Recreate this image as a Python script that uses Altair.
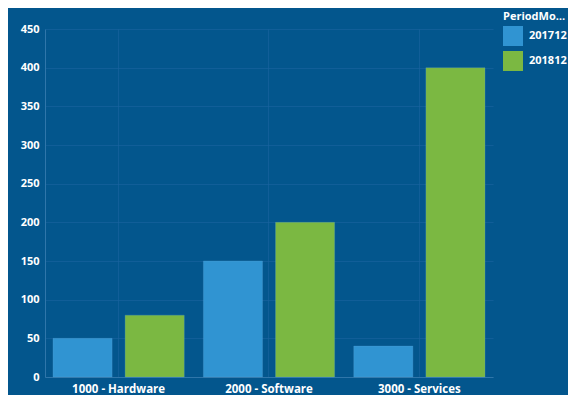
import altair as alt
import pandas as pd

categories = ["1000 - Hardware", "2000 - Software", "3000 - Services"]
periods = ["201712", "201812"]
values_201712 = [50, 150, 40]
values_201812 = [80, 200, 400]

rows = []
for c, v1, v2 in zip(categories, values_201712, values_201812):
    rows.append({"Category": c, "PeriodMonth": periods[0], "Value": v1})
    rows.append({"Category": c, "PeriodMonth": periods[1], "Value": v2})
df = pd.DataFrame(rows)

BG = "#03568D"
FONT = "Open Sans"

chart = alt.Chart(df).mark_bar(stroke="#5fa9dc", strokeOpacity=0.25, strokeWidth=1).encode(
    x=alt.X("Category:N", sort=categories, title=None,
            scale=alt.Scale(paddingInner=0.127, paddingOuter=0.053),
            axis=alt.Axis(labelAngle=0, labelColor="white", labelFont=FONT, labelFontSize=11.5,
                          labelFontWeight="bold", ticks=False, labelPadding=6,
                          domainColor="#2f76aa", grid=True, gridColor="#1a64a0",
                          gridOpacity=0.6, bandPosition=0.5)),
    xOffset=alt.XOffset("PeriodMonth:N", sort=periods,
                        scale=alt.Scale(paddingInner=0.18, paddingOuter=0)),
    y=alt.Y("Value:Q", title=None,
            scale=alt.Scale(domain=[0, 450]),
            axis=alt.Axis(values=list(range(0, 451, 50)), labelColor="white", labelFont=FONT,
                          labelFontSize=11, labelFontWeight="bold", ticks=False, labelPadding=6,
                          domainColor="#2f76aa", gridColor="#1a64a0", gridOpacity=0.6)),
    color=alt.Color("PeriodMonth:N", sort=periods,
                    scale=alt.Scale(domain=periods, range=["#3094D2", "#7BB842"]),
                    legend=alt.Legend(title="PeriodMonth", orient="none", legendX=458, legendY=-18,
                                      titleColor="white", titleFont=FONT, titleFontSize=11,
                                      titleFontWeight="bold", titleLimit=64,
                                      labelColor="white", labelFont=FONT, labelFontSize=11,
                                      labelFontWeight="bold", symbolType="square",
                                      symbolSize=400, symbolStrokeWidth=0, rowPadding=5,
                                      titlePadding=4, labelOffset=6)),
).properties(
    width=448, height=348,
    background=BG,
    padding={"left": 37, "top": 21, "right": 75, "bottom": 18},
    autosize=alt.AutoSizeParams(type="none"),
).configure_view(stroke=None)

chart.save("out.html", embed_options={"renderer": "svg", "actions": False})
